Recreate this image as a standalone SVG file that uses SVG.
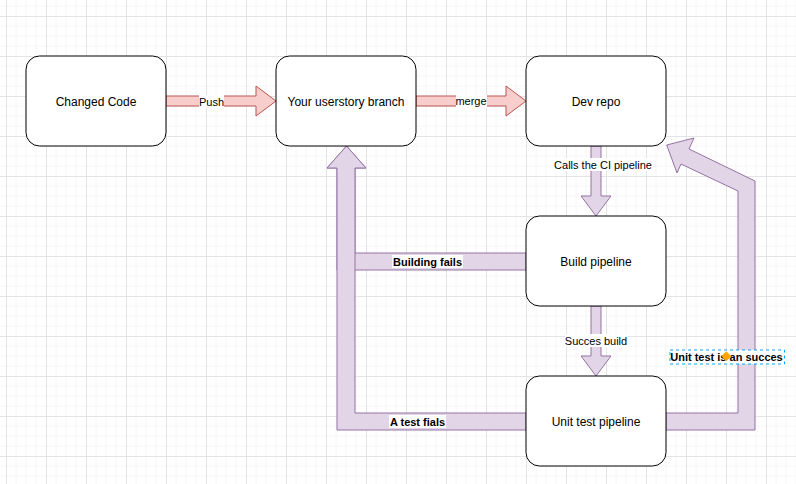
<svg xmlns="http://www.w3.org/2000/svg" width="796" height="484" viewBox="0 0 796 484">
<style>
.node rect{fill:#ffffff;stroke:#000000;stroke-width:1}
.node text{font-family:"Liberation Sans",Arial,sans-serif;font-size:12px;fill:#000000;text-anchor:middle}
.red{fill:#f8cecc;stroke:#b85450;stroke-width:1}
.pur{fill:#e1d5e7;stroke:#9673a6;stroke-width:1}
.lbg{fill:#ffffff}
.lbl{font-family:"Liberation Sans",Arial,sans-serif;font-size:11px;fill:#000000;text-anchor:middle}
.b{font-weight:bold}
</style>
<defs>
<pattern id="grid" x="6" y="16" width="40" height="40" patternUnits="userSpaceOnUse">
<path d="M10 0V40M20 0V40M30 0V40M0 10H40M0 20H40M0 30H40" stroke="#f6f6f6" stroke-width="1" fill="none"/>
<path d="M0.5 0V40M0 0.5H40" stroke="#e4e4e4" stroke-width="1" fill="none"/>
</pattern>
</defs>
<rect width="796" height="484" fill="#ffffff"/>
<rect width="796" height="484" fill="url(#grid)"/>
<g id="connectors">
<polygon class="red" points="166,96 256,96 256,86 276,101 256,116 256,106 166,106"/>
<polygon class="red" points="416,96 506,96 506,86 526,101 506,116 506,106 416,106"/>
<polygon class="pur" points="591,146 601,146 601,196 611,196 596,216 581,196 591,196"/>
<polygon class="pur" points="591,306 601,306 601,356 611,356 596,376 581,356 591,356"/>
<polygon class="pur" points="526,253 355,253 355,168 366,168 346.5,146 327,168 337,168 337,270 526,270"/>
<polygon class="pur" points="526,413 355,413 355,168 366,168 346.5,146 327,168 337,168 337,430 526,430"/>
<polygon class="pur" points="666,413 738,413 738,191 681,164 677,173 666.7,145 694,138 689,149 755,181 755,430 666,430"/>
<rect class="lbg" x="199" y="95" width="25" height="13"/>
<text class="lbl" x="211.5" y="105.5">Push</text>
<rect class="lbg" x="456" y="95" width="31" height="13"/>
<text class="lbl" x="471" y="105">merge</text>
<rect class="lbg" x="554" y="158" width="99" height="13"/>
<text class="lbl" x="603" y="169">Calls the CI pipeline</text>
<rect class="lbg" x="565" y="334" width="63" height="13"/>
<text class="lbl" x="596" y="345">Succes build</text>
<rect class="lbg" x="392" y="255" width="71" height="13"/>
<text class="lbl b" x="427.5" y="266">Building fails</text>
<rect class="lbg" x="389" y="415" width="57" height="13"/>
<text class="lbl b" x="417.5" y="426">A test fials</text>
<rect class="lbg" x="670" y="350" width="115" height="14"/>
<text class="lbl b" x="726.5" y="361">Unit test is an succes</text>
<rect x="670" y="350" width="114.5" height="14" fill="none" stroke="#00a8ff" stroke-width="1" stroke-dasharray="3,3"/>
<rect x="723.3" y="353.3" width="6" height="6" fill="#ffa500" stroke="#ffa500" transform="rotate(45 726.3 356.3)"/>
</g>
<g id="changed-code" class="node"><rect x="26" y="56" width="140" height="90" rx="13.5"/><text x="96" y="105.5">Changed Code</text></g>
<g id="userstory-branch" class="node"><rect x="276" y="56" width="140" height="90" rx="13.5"/><text x="346" y="105.5">Your userstory branch</text></g>
<g id="dev-repo" class="node"><rect x="526" y="56" width="140" height="90" rx="13.5"/><text x="596" y="105.5">Dev repo</text></g>
<g id="build-pipeline" class="node"><rect x="526" y="216" width="140" height="90" rx="13.5"/><text x="596" y="265.5">Build pipeline</text></g>
<g id="unit-test-pipeline" class="node"><rect x="526" y="376" width="140" height="90" rx="13.5"/><text x="596" y="425.5">Unit test pipeline</text></g>
</svg>
